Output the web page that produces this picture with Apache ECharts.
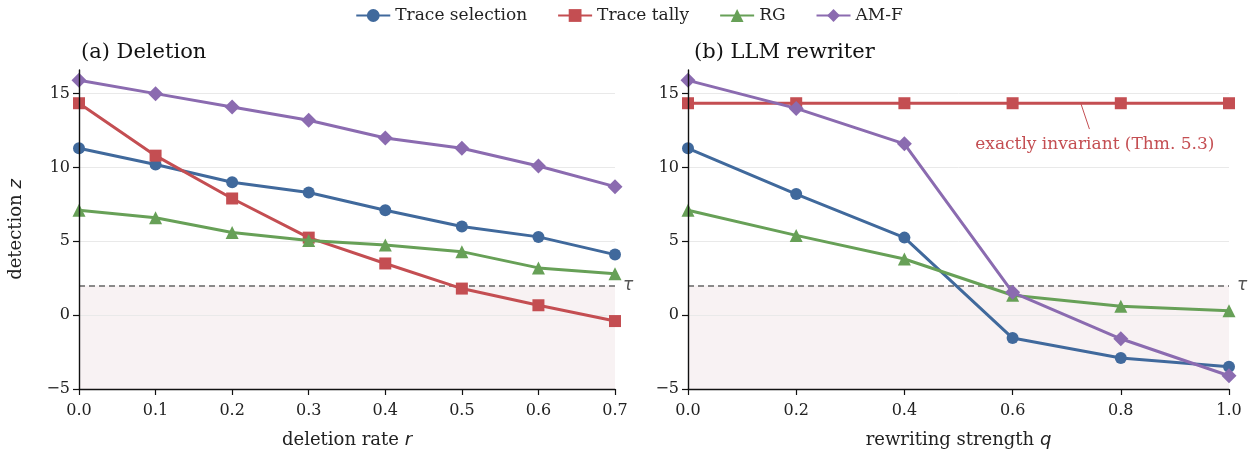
<!DOCTYPE html>
<html>
<head>
<meta charset="utf-8">
<script src="https://cdn.jsdelivr.net/npm/echarts@6/dist/echarts.min.js"></script>
<style>
  html, body { margin: 0; padding: 0; background: #fff; }
  #chart { width: 1258px; height: 454px; }
</style>
</head>
<body>
<div id="chart"></div>
<script>
// deletion panel
const delRates = [0.0, 0.1, 0.2, 0.3, 0.4, 0.5, 0.6, 0.7];
const delSelection = [11.3, 10.2, 9.0, 8.3, 7.1, 6.0, 5.3, 4.1];
const delTally = [14.35, 10.8, 7.9, 5.25, 3.5, 1.8, 0.67, -0.4];
const delRG = [7.1, 6.6, 5.6, 5.05, 4.75, 4.3, 3.2, 2.8];
const delAMF = [15.9, 15.0, 14.1, 13.2, 12.0, 11.3, 10.1, 8.7];

// rewriter panel
const rwStrength = [0.0, 0.2, 0.4, 0.6, 0.8, 1.0];
const rwSelection = [11.3, 8.2, 5.25, -1.55, -2.9, -3.5];
const rwTally = [14.35, 14.35, 14.35, 14.35, 14.35, 14.35];
const rwRG = [7.1, 5.4, 3.8, 1.35, 0.6, 0.3];
const rwAMF = [15.9, 14.0, 11.6, 1.55, -1.6, -4.1];

const yTicks = [-5, 0, 5, 10, 15];
const tau = 2;

const names = ['Trace selection', 'Trace tally', 'RG', 'AM-F'];
const colors = ['#40699c', '#c44e52', '#67a057', '#8b6bb0'];
const symbols = ['circle', 'rect', 'triangle', 'diamond'];
const symbolSizes = [12, 12, 13, 15];

const font = 'DejaVu Serif';

function pairs(xs, ys) {
  return xs.map((x, i) => [x, ys[i]]);
}

function lineSeries(idx, k, xs, ys) {
  return {
    name: names[k],
    type: 'line',
    xAxisIndex: idx,
    yAxisIndex: idx,
    data: pairs(xs, ys),
    symbol: symbols[k],
    symbolSize: symbolSizes[k],
    itemStyle: { color: colors[k] },
    lineStyle: { color: colors[k], width: 3 },
    z: 5 + k,
    animation: false
  };
}

// threshold line, shaded area and grid lines
function bgSeries(idx) {
  return {
    type: 'line',
    xAxisIndex: idx,
    yAxisIndex: idx,
    data: [],
    silent: true,
    z: -1,
    markArea: {
      silent: true,
      itemStyle: { color: '#f8f2f3' },
      data: [[{ yAxis: -5 }, { yAxis: tau }]]
    },
    markLine: {
      silent: true,
      symbol: 'none',
      animation: false,
      data: [
        {
          yAxis: tau,
          lineStyle: { color: '#666', type: [6, 4], width: 1.5 },
          label: {
            show: true, position: 'end', formatter: 'τ',
            color: '#555', fontFamily: 'DejaVu Sans', fontStyle: 'italic',
            fontSize: 17, distance: 8
          }
        }
      ].concat(yTicks.slice(1).map(v => ({
        yAxis: v,
        lineStyle: { color: '#e9e9e9', type: 'solid', width: 1 },
        label: { show: false }
      })))
    }
  };
}

function xAxis(idx, max, interval, nameParts) {
  return {
    type: 'value',
    gridIndex: idx,
    min: 0,
    max: max,
    interval: interval,
    name: '{n|' + nameParts[0] + '}{i|' + nameParts[1] + '}',
    nameLocation: 'middle',
    nameGap: 42,
    nameTextStyle: {
      rich: {
        n: { fontFamily: font, fontSize: 18, color: '#222' },
        i: { fontFamily: 'DejaVu Sans', fontStyle: 'italic', fontSize: 18, color: '#222' }
      }
    },
    z: 10,
    axisLine: { show: true, onZero: false, lineStyle: { color: '#111', width: 1.4 } },
    axisTick: { show: true, inside: false, length: 6, lineStyle: { color: '#111', width: 1.2 } },
    axisLabel: {
      fontFamily: font, fontSize: 16, color: '#222', margin: 14,
      formatter: v => v.toFixed(1)
    },
    splitLine: { show: false }
  };
}

function yAxis(idx, withName) {
  return {
    type: 'value',
    gridIndex: idx,
    min: -5,
    max: 16.6,
    interval: 5,
    name: withName ? '{n|detection }{i|z}' : '',
    nameLocation: 'middle',
    nameGap: 54,
    nameRotate: 90,
    nameTextStyle: {
      rich: {
        n: { fontFamily: font, fontSize: 18, color: '#222' },
        i: { fontFamily: 'DejaVu Sans', fontStyle: 'italic', fontSize: 18, color: '#222' }
      }
    },
    z: 10,
    axisLine: { show: true, onZero: false, lineStyle: { color: '#111', width: 1.4 } },
    axisTick: { show: true, length: 6, customValues: yTicks, lineStyle: { color: '#111', width: 1.2 } },
    axisLabel: {
      fontFamily: font, fontSize: 16, color: '#222', margin: 9,
      customValues: yTicks,
      formatter: v => (v < 0 ? '\u2212' + Math.abs(v) : String(v))
    },
    splitLine: { show: false }
  };
}

const chart = echarts.init(document.getElementById('chart'));
chart.setOption({
  backgroundColor: '#fff',
  animation: false,
  textStyle: { fontFamily: font },
  legend: {
    top: 2,
    left: 'center',
    data: names,
    itemWidth: 34,
    itemHeight: 16,
    itemGap: 30,
    textStyle: { fontFamily: font, fontSize: 17, color: '#222' }
  },
  title: [
    { text: '(a) Deletion', left: 76, top: 37,
      textStyle: { fontFamily: font, fontSize: 21, fontWeight: 'normal', color: '#111' } },
    { text: '(b) LLM rewriter', left: 689, top: 37,
      textStyle: { fontFamily: font, fontSize: 21, fontWeight: 'normal', color: '#111' } }
  ],
  grid: [
    { left: 79, right: 643, top: 70, bottom: 64 },
    { left: 688, right: 29, top: 70, bottom: 64 }
  ],
  xAxis: [
    xAxis(0, 0.7, 0.1, ['deletion rate ', 'r']),
    xAxis(1, 1.0, 0.2, ['rewriting strength ', 'q'])
  ],
  yAxis: [yAxis(0, true), yAxis(1, false)],
  series: [
    bgSeries(0),
    bgSeries(1),
    lineSeries(0, 0, delRates, delSelection),
    lineSeries(0, 1, delRates, delTally),
    lineSeries(0, 2, delRates, delRG),
    lineSeries(0, 3, delRates, delAMF),
    lineSeries(1, 0, rwStrength, rwSelection),
    Object.assign(lineSeries(1, 1, rwStrength, rwTally), {
      markLine: {
        silent: true,
        symbol: 'none',
        animation: false,
        lineStyle: { color: '#c44e52', width: 1, type: 'solid' },
        label: { show: false },
        data: [[{ coord: [0.726, 14.35] }, { coord: [0.742, 12.6] }]]
      },
      markPoint: {
        silent: true,
        symbol: 'rect',
        symbolSize: 1,
        itemStyle: { color: 'rgba(0,0,0,0)' },
        label: {
          show: true,
          formatter: 'exactly invariant (Thm. 5.3)',
          color: '#c44e52',
          fontFamily: font,
          fontSize: 17
        },
        data: [{ coord: [0.752, 11.55] }]
      }
    }),
    lineSeries(1, 2, rwStrength, rwRG),
    lineSeries(1, 3, rwStrength, rwAMF)
  ]
});
</script>
</body>
</html>
